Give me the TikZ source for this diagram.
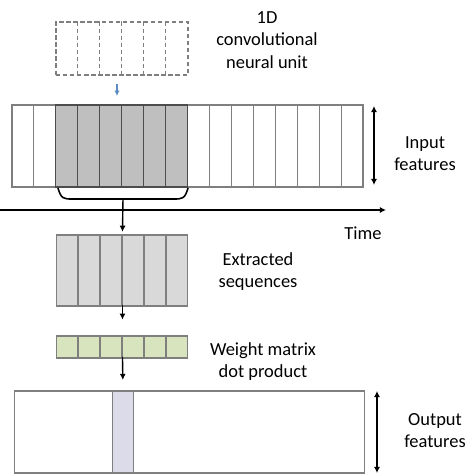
\documentclass[tikz,border=0pt]{standalone}
\usepackage{fontspec}
\setmainfont{Carlito}
\usepackage{xcolor}
\usetikzlibrary{positioning, arrows.meta}

\definecolor{lineGray}{HTML}{7F7F7F}
\definecolor{darkLine}{HTML}{4D4D4D}
\definecolor{selGray}{HTML}{BFBFBF}
\definecolor{extGray}{HTML}{D9D9D9}
\definecolor{weightGreen}{HTML}{D7E4BD}
\definecolor{bandPurple}{HTML}{DCDBEA}
\definecolor{arrowBlue}{HTML}{5B8CC4}

\tikzset{
  cell/.style={draw=lineGray, line width=0.6pt, fill=white, inner sep=0pt, minimum width=0.438cm},
  selcell/.style={cell, draw=darkLine, fill=selGray},
  unitline/.style={draw=lineGray, line width=0.6pt, dash pattern=on 2.5pt off 1.5pt},
  arr/.style={-{Latex[length=3.5pt,width=3.5pt]}, line width=0.8pt},
  dbl/.style={{Latex[length=3.5pt,width=3.5pt]}-{Latex[length=3.5pt,width=3.5pt]}, line width=0.9pt},
  label/.style={align=center}
}

\begin{document}
\begin{tikzpicture}[x=0.02cm, y=-0.02cm, every node/.style={font=\fontsize{10.5}{12.6}\selectfont}]
  \useasboundingbox (0,0) rectangle (474,474);

  % 1D convolutional unit (dashed)
  \node[unitline, inner sep=0pt, minimum width=2.64cm, minimum height=1.06cm] (unit) at (122,48.5) {};
  \foreach \i in {1,...,5}
    \draw[unitline] ([xshift=\i*0.44cm]unit.north west) -- ([xshift=\i*0.44cm]unit.south west);
  \node[label] (unitlbl) at (267,40) {1D\\convolutional\\neural unit};

  % Input features
  \foreach \i in {1,2,9,10,11,12,13,14,15,16}
    \node[cell, minimum height=1.64cm] (in\i) at ({12+(\i-0.5)*21.94},146) {};
  \foreach \i in {3,...,8}
    \node[selcell, minimum height=1.64cm] (in\i) at ({12+(\i-0.5)*21.94},146) {};
  \node[label] (inlbl) at (425,154) {Input\\features};

  % Blue arrow
  \coordinate (b1) at (117,84);
  \coordinate (b2) at (117,96);
  \draw[-{Latex[length=3pt,width=3pt]}, arrowBlue, line width=0.7pt] (b1) -- (b2);

  % Input height arrow
  \coordinate (ih1) at (374,106);
  \coordinate (ih2) at (374,185);
  \draw[dbl] (ih1) -- (ih2);

  % Bracket
  \coordinate (bl) at (58,188);
  \coordinate (br) at (188,188);
  \coordinate (bm) at (123,199);
  \draw[line width=0.9pt] (bl) .. controls (61,199) and (64,199) .. (72,199)
    -- (174,199) .. controls (182,199) and (185,199) .. (br);

  % Time axis
  \coordinate (t0) at (0,210);
  \coordinate (t1) at (386,210);
  \draw[-{Latex[length=3.5pt,width=3.5pt]}, line width=0.9pt] (t0) -- (t1);
  \node (timelbl) at (363,233) {Time};

  % Extracted sequences
  \foreach \i in {1,...,6}
    \node[cell, fill=extGray, minimum height=1.42cm] (ex\i) at ({56+(\i-0.5)*22},270.5) {};
  \node[label] (exlbl) at (258,272) {Extracted\\sequences};

  % Weight matrix
  \foreach \i in {1,...,6}
    \node[cell, fill=weightGreen, minimum height=0.44cm] (gr\i) at ({56+(\i-0.5)*22},347) {};
  \node[label] (grlbl) at (263,362) {Weight matrix\\dot product};

  % Output features
  \node[cell, minimum width=7.02cm, minimum height=1.64cm] (out) at (189.5,432) {};
  \node[cell, fill=bandPurple, minimum height=1.64cm] (band) at (123,432) {};
  \node[label] (outlbl) at (435,431) {Output\\features};
  \coordinate (oh1) at (377,391);
  \coordinate (oh2) at (377,473);
  \draw[dbl] (oh1) -- (oh2);

  % Arrows
  \draw[arr] (bm) -- ([yshift=1.5pt]ex3.north east);
  \draw[arr, shorten >=9pt] ([yshift=1pt]ex3.south east) -- (gr3.north east);
  \draw[arr, shorten >=6pt] ([yshift=1pt]gr3.south east) -- (band.north);
\end{tikzpicture}
\end{document}
